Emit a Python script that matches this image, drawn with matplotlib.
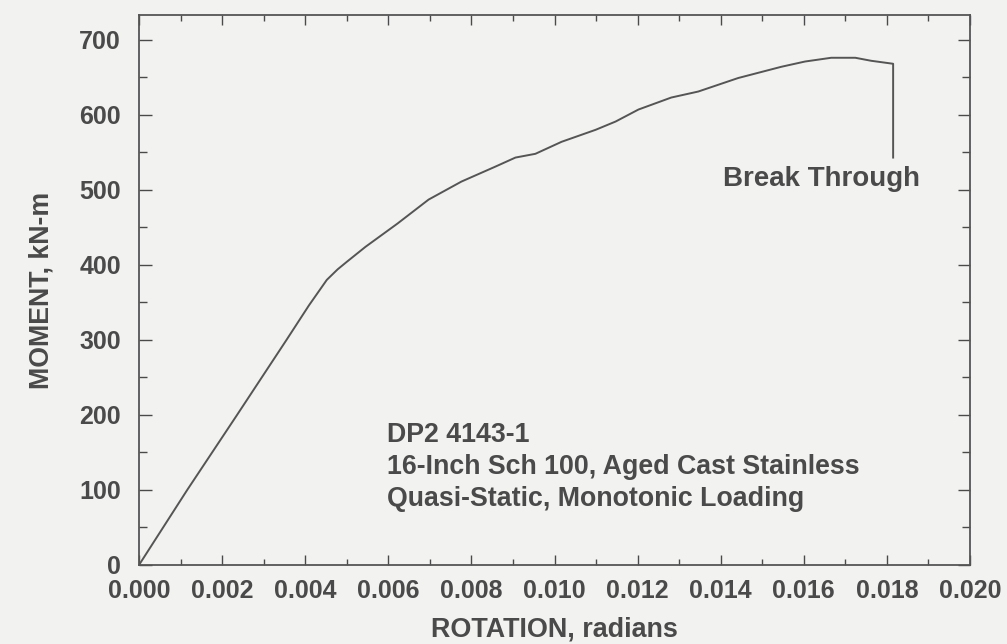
import matplotlib
matplotlib.use("Agg")
import matplotlib.pyplot as plt
from matplotlib.ticker import MultipleLocator, FormatStrFormatter

# Data (rotation in radians, moment in kN-m)
rotation = [0.0, 0.00116, 0.00236, 0.00355, 0.00409, 0.00452, 0.00478, 0.00500,
            0.00545, 0.00622, 0.00697, 0.00776, 0.00858, 0.00906, 0.00954,
            0.01017, 0.01099, 0.01147, 0.01202, 0.01281, 0.01346, 0.01442,
            0.01546, 0.01603, 0.01666, 0.01724, 0.01762, 0.01815, 0.01815]
moment = [0, 100, 200, 300, 346, 380, 394, 404,
          424, 455, 487, 511, 531, 543, 548,
          564, 580, 591, 607, 623, 631, 649,
          664, 671, 676, 676, 672, 668, 543]

x_ticks = [0.000, 0.002, 0.004, 0.006, 0.008, 0.010, 0.012, 0.014, 0.016, 0.018, 0.020]
y_ticks = [0, 100, 200, 300, 400, 500, 600, 700]

info_lines = ["DP2 4143-1",
              "16-Inch Sch 100, Aged Cast Stainless",
              "Quasi-Static, Monotonic Loading"]

bg = "#f2f2f0"
ink = "#4a4a4a"

plt.rcParams['font.family'] = ['Liberation Sans', 'DejaVu Sans']
plt.rcParams['font.weight'] = 'bold'

fig = plt.figure(figsize=(10.07, 6.44), dpi=100, facecolor=bg)
ax = fig.add_axes([139/1007, 1 - 565/644, (970-139)/1007, (565-15)/644])
ax.set_facecolor(bg)

ax.plot(rotation, moment, color="#555555", linewidth=1.4)

ax.set_xlim(0, 0.020)
ax.set_ylim(0, 733)
ax.set_xticks(x_ticks)
ax.set_yticks(y_ticks)
ax.xaxis.set_major_formatter(FormatStrFormatter('%.3f'))
ax.xaxis.set_minor_locator(MultipleLocator(0.001))
ax.yaxis.set_minor_locator(MultipleLocator(50))

ax.tick_params(axis='both', which='both', direction='in', top=True, right=True,
               colors=ink, labelcolor=ink)
ax.tick_params(axis='x', which='major', length=7, width=1, pad=10, labelsize=18)
ax.tick_params(axis='x', which='minor', length=4, width=1)
ax.tick_params(axis='y', which='major', length=9, width=1, pad=13, labelsize=18)
ax.tick_params(axis='y', which='minor', length=6, width=1)
for s in ax.spines.values():
    s.set_color("#555555")
    s.set_linewidth(1.3)

ax.set_xlabel("ROTATION, radians", fontsize=19.4, color=ink, fontweight='bold', labelpad=10)
ax.set_ylabel("MOMENT, kN-m", fontsize=19.3, color=ink, fontweight='bold', labelpad=18)

ax.text(0.01642, 514, "Break Through", fontsize=20, color=ink, fontweight='bold',
        ha='center', va='center')
ax.text(0.00598, 131, "\n".join(info_lines), fontsize=19.3, color=ink, fontweight='bold',
        ha='left', va='center', linespacing=1.3)

fig.savefig("out.png", dpi=100, facecolor=bg)
